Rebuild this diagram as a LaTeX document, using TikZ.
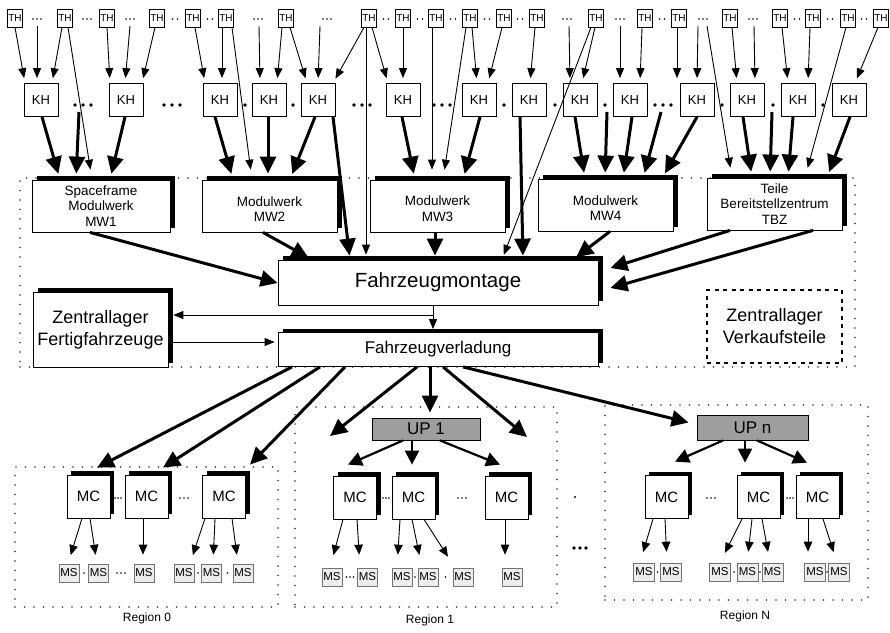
\documentclass[tikz,border=0pt]{standalone}
\usepackage{fontspec}
\setmainfont{Liberation Sans}
\usetikzlibrary{arrows.meta,shadows,calc}

% row of n dots centred at (x,y): x, y, n, spacing, radius
\newcommand{\dotgroup}[5]{%
  \foreach \k in {1,...,#3}{\fill ({#1+(\k-(#3+1)/2)*#4},#2) circle[radius=#5];}}

\tikzset{
  box/.style={draw, line width=0.8pt, fill=white, inner sep=0pt, align=center},
  shadowed/.style={general shadow={fill=black, shadow xshift=5pt, shadow yshift=4pt}},
  thbox/.style={box, minimum width=15pt, minimum height=18pt, font=\fontsize{10}{10}\selectfont},
  khbox/.style={box, minimum width=34pt, minimum height=33pt, font=\fontsize{13}{13}\selectfont},
  modbox/.style={box, shadowed, minimum width=135pt, minimum height=52pt, font=\fontsize{13.5}{15.5}\selectfont},
  mcbox/.style={box, general shadow={fill=black, shadow xshift=4pt, shadow yshift=4pt},
    minimum width=43pt, minimum height=43pt, font=\fontsize{15}{15}\selectfont},
  msbox/.style={draw=black!55, fill=black!7, line width=0.7pt, inner sep=0pt,
    minimum width=20pt, minimum height=18pt, font=\fontsize{11.5}{11.5}\selectfont},
  upbox/.style={draw, line width=0.9pt, fill=black!38, inner sep=0pt,
    minimum width=110pt, minimum height=24pt, font=\fontsize{17}{17}\selectfont},
  dotframe/.style={draw=black!80, line width=1.6pt, dash pattern=on 0pt off 9.5pt, line cap=round, inner sep=0pt},
  dashbox/.style={draw, line width=1.3pt, dash pattern=on 4pt off 4.5pt, inner sep=0pt, align=center},
  reglabel/.style={font=\fontsize{12}{12}\selectfont, inner sep=1pt},
  arrthin/.style={line width=0.9pt, -{Triangle[length=10pt,width=8pt]}, shorten >=#1},
  arrthin/.default=0pt,
  arrthick/.style={line width=3pt, -{Triangle[length=17pt,width=16pt]}, shorten >=#1},
  arrthick/.default=0pt,
  arrmid/.style={line width=2.2pt, -{Triangle[length=14pt,width=14pt]}, shorten >=#1},
  arrmid/.default=0pt,
  arrms/.style={line width=0.9pt, -{Triangle[length=10pt,width=8.5pt]}, shorten >=#1},
  arrms/.default=0pt,
}

\begin{document}
\begin{tikzpicture}[x=1pt,y=-1pt]
\fill[white] (0,0) rectangle (890,632);
\useasboundingbox (0,0) rectangle (890,632);

% ---------- dotted frames ----------
\node[dotframe, minimum width=835pt, minimum height=189pt] (plant) at (437.5,272.5) {};
\node[dotframe, minimum width=263pt, minimum height=140pt] (reg0) at (146.5,537) {};
\node[dotframe, minimum width=262pt, minimum height=200pt] (reg1) at (426,507) {};
\node[dotframe, minimum width=263pt, minimum height=195pt] (regn) at (736.5,502.5) {};
\node[reglabel] (reg0l) at (147,618) {Region 0};
\node[reglabel] (reg1l) at (430,620) {Region 1};
\node[reglabel] (regnl) at (745,616) {Region N};

% ---------- TH and KH rows ----------
\foreach \x [count=\i] in {15,65,107,157,193,226,286,369,403,436,470,504,537,596,645,679,730,780,813,848,881}
  \node[thbox] (th\i) at (\x,18) {TH};
\foreach \x [count=\i] in {41,126,220,269,318,403,479,529,580,630,697,747,798,849}
  \node[khbox] (kh\i) at (\x,100) {KH};

\foreach \x in {37,87,130,258,327,567,620,703,753} {\dotgroup{\x}{19}{3}{4}{0.9pt}}
\foreach \x in {175,210,386,420,453,487,520,662,797,830,864} {\dotgroup{\x}{19}{2}{5}{0.9pt}}
\foreach \x in {83,172,362,442,663} {\dotgroup{\x}{105}{3}{8}{1.8pt}}
\foreach \x in {245,293,504,555,605,722,773,823} {\dotgroup{\x}{105}{1}{0}{1.8pt}}

% sources hidden behind the dots
\foreach \n/\x in {o1/37,o2/130,o3/259,o4/320,o5/569,o6/620,o7/698,o8/707,o9/754}
  {\coordinate (\n) at (\x,26);}
\foreach \n/\x in {p1/79,p2/607,p3/661,p4/772}
  {\coordinate (\n) at (\x,112);}

% ---------- plants ----------
\node[modbox, minimum width=138pt] (mw1) at (101,206) {Spaceframe\\Modulwerk\\MW1};
\node[modbox] (mw2) at (269.5,206) {\mbox{}\\Modulwerk\\MW2};
\node[modbox] (mw3) at (437.5,206) {\mbox{}\\Modulwerk\\MW3};
\node[modbox] (mw4) at (605.5,205) {\mbox{}\\Modulwerk\\MW4};
\node[modbox] (tbz) at (774.5,204) {Teile\\Bereitstellzentrum\\TBZ};

\node[box, shadowed, minimum width=320pt, minimum height=45pt, font=\fontsize{20.5}{22}\selectfont]
  (fm) at (438,282.5) {Fahrzeugmontage};
\node[box, shadowed, minimum width=320pt, minimum height=34pt, font=\fontsize{17}{20}\selectfont]
  (fv) at (438,349.5) {Fahrzeugverladung};
\node[box, shadowed, minimum width=135pt, minimum height=75pt, font=\fontsize{18}{22}\selectfont]
  (zf) at (100.5,329.5) {Zentrallager\\Fertigfahrzeuge};
\node[dashbox, minimum width=135pt, minimum height=73pt, font=\fontsize{18}{22}\selectfont]
  (zv) at (774.5,326.5) {Zentrallager\\Verkaufsteile};

% ---------- regions ----------
\node[upbox, minimum width=108pt, minimum height=22pt] (up1) at (426,429) {UP 1};
\node[upbox, minimum width=111pt, minimum height=25pt] (upn) at (752.5,427.5) {UP n};

\node[mcbox] (mc01) at (88.5,496.5) {MC};
\node[mcbox] (mc02) at (146.5,496.5) {MC};
\node[mcbox] (mc03) at (224,496.5) {MC};
\node[mcbox] (mc11) at (355,497.5) {MC};
\node[mcbox] (mc12) at (413.5,497.5) {MC};
\node[mcbox] (mc13) at (506.5,497.5) {MC};
\node[mcbox] (mc21) at (666.5,497) {MC};
\node[mcbox] (mc22) at (758.5,497) {MC};
\node[mcbox] (mc23) at (817.5,497) {MC};

\foreach \n/\x in {ms01/69,ms02/98.5,ms03/144,ms04/184,ms05/211.5,ms06/243}
  {\node[msbox] (\n) at (\x,573) {MS};}
\foreach \n/\x in {ms11/332,ms12/367.5,ms13/402,ms14/428,ms15/463,ms16/512}
  {\node[msbox] (\n) at (\x,577) {MS};}
\foreach \n/\x in {ms21/644,ms22/671,ms23/720,ms24/747.5,ms25/772.5,ms26/815,ms27/839}
  {\node[msbox, minimum width=21pt] (\n) at (\x,572) {MS};}

\dotgroup{118}{498}{3}{3}{0.9pt}
\dotgroup{184}{498}{3}{4}{0.9pt}
\dotgroup{386}{498}{3}{3}{0.9pt}
\dotgroup{462}{498}{3}{4}{0.9pt}
\dotgroup{711}{498}{3}{4}{0.9pt}
\dotgroup{790}{498}{3}{3}{0.9pt}
\dotgroup{121}{573}{3}{4}{0.9pt}
\foreach \x in {84,198,227.5} {\dotgroup{\x}{573}{1}{0}{0.9pt}}
\dotgroup{350}{577}{3}{3.5}{0.9pt}
\foreach \x in {415,445.5} {\dotgroup{\x}{577}{1}{0}{0.9pt}}
\foreach \x in {657.5,734,760,827} {\dotgroup{\x}{572}{1}{0}{0.9pt}}
\dotgroup{575}{497}{1}{0}{1.1pt}
\dotgroup{580}{548}{3}{6}{1.8pt}

% ---------- TH -> KH ----------
\foreach \src/\xa/\dst/\xb in {th1/15/kh1/25, th2/62/kh1/52, th3/107/kh2/110, th4/155/kh2/142,
    th5/195/kh3/205, th6/222/kh3/222, th7/282/kh4/277, th7/290/kh5/307, th8/364/kh5/333,
    th8/372/kh6/388, th9/403/kh6/403, th11/472/kh7/477, th12/502/kh7/488, th13/535/kh8/530,
    th14/595/kh9/582, th15/642/kh10/640, th16/677/kh11/677, th17/732/kh12/737,
    th18/782/kh13/788, th19/810/kh13/808, th21/878/kh14/855}
  {\draw[arrthin=5pt] (\xa,0 |- \src.south) -- (\xb,0 |- \dst.north);}
\foreach \src/\xb/\dst in {o1/37/kh1, o2/125/kh2, o3/260/kh4, o4/318/kh5, o5/570/kh9,
    o6/620/kh10, o7/697/kh11, o9/755/kh12}
  {\draw[arrthin=5pt] (\src) -- (\xb,0 |- \dst.north);}

% ---------- TH -> plants (direct) ----------
\foreach \src/\xa/\dst/\xb in {th2/68/mw1/92, th6/232/mw2/252, th10/432/mw3/432,
    th11/466/mw3/443, th20/846/tbz/805}
  {\draw[arrthin=10pt] (\xa,0 |- \src.south) -- (\xb,0 |- \dst.north);}
\draw[arrthin=10pt] (o8) -- (732,0 |- tbz.north);
\draw[arrthin=5pt] (366,0 |- th8.south) -- (366,0 |- fm.north);
\draw[arrthin=5pt] (591,0 |- th14.south) -- (502,0 |- fm.north);

% ---------- KH -> plants ----------
\foreach \src/\xa/\dst/\xb in {kh1/42/mw1/60, kh2/125/mw1/110, kh3/215/mw2/233,
    kh4/268/mw2/268, kh5/315/mw2/290, kh6/402/mw3/415, kh7/480/mw3/463, kh9/575/mw4/585,
    kh10/632/mw4/623, kh11/697/mw4/662, kh12/743/tbz/752, kh13/793/tbz/788, kh14/850/tbz/827}
  {\draw[arrthick=6pt] (\xa,0 |- \src.south) -- (\xb,0 |- \dst.north);}
\foreach \src/\xb/\dst in {p1/76/mw1, p2/605/mw4, p3/643/mw4, p4/770/tbz}
  {\draw[arrthick=6pt] (\src) -- (\xb,0 |- \dst.north);}
\draw[arrthick=4pt] (333,0 |- kh5.south) -- (350,0 |- fm.north);
\draw[arrthick=4pt] (520,0 |- kh8.south) -- (523,0 |- fm.north);

% ---------- plants -> assembly ----------
\coordinate (fmr) at ([xshift=12pt]fm.east);
\draw[arrthick] (90,0 |- mw1.south) -- (fm.west |- 0,283);
\draw[arrthick=4pt] (263,0 |- mw2.south) -- (312,0 |- fm.north);
\draw[arrthick=4pt] (435,0 |- mw3.south) -- (435,0 |- fm.north);
\draw[arrthick=4pt] (610,0 |- mw4.south) -- (573,0 |- fm.north);
\draw[arrthick] (730,0 |- tbz.south) -- (fmr |- 0,268);
\draw[arrthick] (813,0 |- tbz.south) -- (fmr |- 0,288);

% ---------- assembly -> loading, central store ----------
\coordinate (fork) at (433,315);
\coordinate (zfr) at ([xshift=5pt]zf.east);
\draw[arrthin=3pt] (433,0 |- fm.south) -- (433,0 |- fv.north);
\draw[arrthin] (fork) -- (zfr |- fork);
\draw[arrthin=3pt] (zfr |- 0,342) -- (fv.west |- 0,342);

% ---------- loading -> regions ----------
\coordinate (r1l) at (330,436);
\coordinate (r1r) at (527,437);
\draw[arrthick] (292,0 |- fv.south) -- ($(mc01.north)+(8.5,-7)$);
\draw[arrthick] (320,0 |- fv.south) -- ($(mc02.north)+(16.5,-7)$);
\draw[arrthick] (345,0 |- fv.south) -- ($(mc03.north)+(26,-10)$);
\draw[arrthick] (417,0 |- fv.south) -- (r1l);
\draw[arrthick=5pt] (430,0 |- fv.south) -- (430,0 |- up1.north);
\draw[arrthick] (443,0 |- fv.south) -- (r1r);
\draw[arrthick] (463,0 |- fv.south) -- ($(upn.west)+(-8,-5)$);

% ---------- UP -> MC ----------
\draw[arrmid] (403,0 |- up1.south) -- ($(mc11.north)+(-7,-11)$);
\draw[arrmid] (412,0 |- up1.south) -- ($(mc12.north)+(-1.5,-11)$);
\draw[arrmid] (440,0 |- up1.south) -- ($(mc13.north)+(-6.5,-11)$);
\draw[arrmid] (723,0 |- upn.south) -- ($(mc21.north)+(8.5,-13.5)$);
\draw[arrmid] (745,0 |- upn.south) -- ($(mc22.north)+(-13.5,-12.5)$);
\draw[arrmid] (757,0 |- upn.south) -- ($(mc23.north)+(-10.5,-12.5)$);

% ---------- MC -> MS ----------
\foreach \src/\xa/\dst/\xb in {mc01/82/ms01/68, mc01/90/ms02/97, mc02/143/ms03/143,
    mc03/205/ms04/190, mc03/215/ms05/213, mc03/232/ms06/238}
  {\draw[arrms=9pt] (\xa,0 |- \src.south) -- (\xb,0 |- \dst.north);}
\foreach \src/\xa/\dst/\xb in {mc11/343/ms11/330, mc11/357/ms12/360, mc12/400/ms13/397,
    mc12/412/ms14/422, mc12/424/ms15/455, mc13/505/ms16/505}
  {\draw[arrms=13pt] (\xa,0 |- \src.south) -- (\xb,0 |- \dst.north);}
\foreach \src/\xa/\dst/\xb in {mc21/653/ms21/640, mc21/665/ms22/667, mc22/742/ms23/720,
    mc22/752/ms24/747, mc22/762/ms25/770, mc23/808/ms26/808, mc23/823/ms27/837}
  {\draw[arrms=11pt] (\xa,0 |- \src.south) -- (\xb,0 |- \dst.north);}

\end{tikzpicture}
\end{document}
